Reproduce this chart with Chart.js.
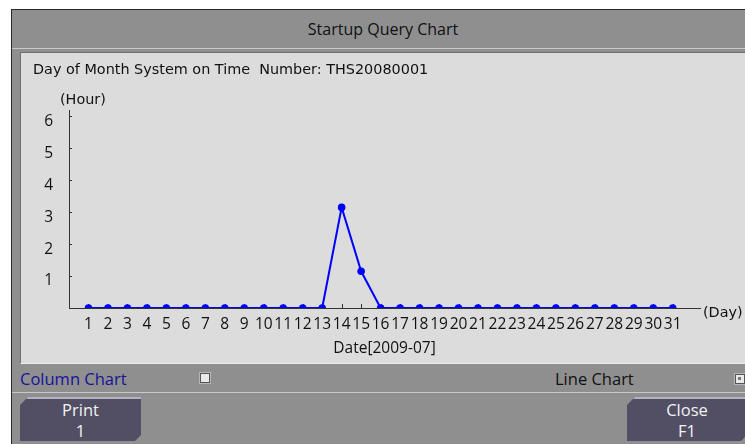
<!DOCTYPE html>
<html>
<head>
<meta charset="utf-8">
<title>Startup Query Chart</title>
<script src="https://cdn.jsdelivr.net/npm/chart.js@4"></script>
<style>
  body { margin: 0; width: 745px; height: 444px; overflow: hidden; background: #fff; position: relative; }
  .abs { position: absolute; }
  #win { left: 11px; top: 9px; width: 740px; height: 440px; background: #8f8f8f; border-left: 1px solid #2a2a2a; border-top: 1px solid #2a2a2a; }
  #caption { font: 16px "Open Sans", sans-serif; left: 12px; top: 10px; width: 742px; height: 38px; line-height: 38px; text-align: center; color: #111; }
  .sep { left: 12px; width: 733px; height: 1px; background: #c9c9c9; }
  #panel { left: 20px; top: 52px; width: 725px; height: 310px; background: #dcdcdc; border-left: 1px solid #6f6f6f; border-top: 1px solid #6f6f6f; border-bottom: 1px solid #ececec; }
  #chart { position: absolute; left: 0; top: 0; }
  .lbl { font: 16.5px "Open Sans", sans-serif; top: 368px; height: 22px; line-height: 22px; }
  .box { width: 8px; height: 8px; background: #e9e9e9; border: 1px solid #555; box-shadow: 0 0 0 1px #b5b5b5; }
  .dot { width: 3px; height: 3px; margin: 2px; background: #777; }
  .btn { font: 16.5px "Open Sans", sans-serif; top: 397px; height: 44px; background: #524f65; color: #f2f2f2; text-align: center; line-height: 21px;
         border-top: 2px solid #b4b2c0; box-sizing: border-box;
         clip-path: polygon(8px 0, 100% 0, 100% calc(100% - 6px), calc(100% - 6px) 100%, 0 100%, 0 8px); }
</style>
</head>
<body>
<div id="win" class="abs"></div>
<div id="caption" class="abs">Startup Query Chart</div>
<div class="abs sep" style="top:48px"></div>
<div id="panel" class="abs"><canvas id="chart" width="724" height="309"></canvas></div>
<div class="abs lbl" style="left:20px;color:#14149a">Column Chart</div>
<div class="abs box" style="left:200px;top:373px"></div>
<div class="abs lbl" style="left:555px;color:#111">Line Chart</div>
<div class="abs box" style="left:735px;top:374px"><div class="dot"></div></div>
<div class="abs sep" style="top:392px"></div>
<div class="abs btn" style="left:20px;width:121px">Print<br>1</div>
<div class="abs btn" style="left:627px;width:120px">Close<br>F1</div>

<script>
const days = [1, 2, 3, 4, 5, 6, 7, 8, 9, 10, 11, 12, 13, 14, 15, 16,
  17, 18, 19, 20, 21, 22, 23, 24, 25, 26, 27, 28, 29, 30, 31];
const hours = [0, 0, 0, 0, 0, 0, 0, 0, 0, 0, 0, 0, 0, 3.15, 1.15, 0,
  0, 0, 0, 0, 0, 0, 0, 0, 0, 0, 0, 0, 0, 0, 0];
const hourTicks = [1, 2, 3, 4, 5, 6];
const heading = 'Day of Month System on Time  Number: THS20080001';

const axisFont = { family: '"Open Sans"', size: 15.5 };

// little inward tick marks plus the header and unit labels
const decorations = {
  id: 'decorations',
  beforeDatasetsDraw(chart) {
    const { ctx, chartArea, scales } = chart;
    ctx.save();
    ctx.strokeStyle = '#333';
    ctx.lineWidth = 1;
    ctx.beginPath();
    hourTicks.forEach(v => {
      const py = Math.round(scales.y.getPixelForValue(v)) + 0.5;
      ctx.moveTo(chartArea.left, py);
      ctx.lineTo(chartArea.left + 3, py);
    });
    days.forEach(d => {
      const px = Math.round(scales.x.getPixelForValue(d)) + 0.5;
      ctx.moveTo(px, chartArea.bottom);
      ctx.lineTo(px, chartArea.bottom - 4);
    });
    ctx.stroke();
    ctx.restore();
  },
  afterDraw(chart) {
    const { ctx, chartArea } = chart;
    ctx.save();
    ctx.fillStyle = '#111';
    ctx.textBaseline = 'middle';
    ctx.textAlign = 'left';
    ctx.font = '14.4px "DejaVu Sans"';
    ctx.fillText(heading, 12, 17);
    ctx.fillText('(Hour)', chartArea.left - 9, chartArea.top - 10);
    ctx.fillText('(Day)', chartArea.right + 3, chartArea.bottom + 5);
    ctx.restore();
  }
};

new Chart(document.getElementById('chart'), {
  type: 'line',
  data: {
    datasets: [{
      data: days.map((d, i) => ({ x: d, y: hours[i] })),
      borderColor: '#0000ff',
      backgroundColor: '#0000ff',
      borderWidth: 2,
      pointRadius: 3.8,
      pointBorderWidth: 0,
      tension: 0
    }]
  },
  options: {
    responsive: false,
    animation: false,
    devicePixelRatio: 1,
    layout: { padding: { left: 0, right: 45, top: 57, bottom: 0 } },
    plugins: { legend: { display: false }, tooltip: { enabled: false } },
    scales: {
      x: {
        type: 'linear',
        min: 0,
        max: 32.4,
        grid: { display: false, drawTicks: false },
        border: { color: '#333', width: 1 },
        ticks: {
          stepSize: 1,
          autoSkip: false,
          maxRotation: 0,
          padding: 7,
          includeBounds: false,
          color: '#111',
          font: axisFont,
          callback: v => days.includes(v) ? String(v) : ''
        },
        title: { display: true, text: 'Date[2009-07]', color: '#111', font: axisFont, padding: { top: 7 } },
        afterFit: s => { s.height = 54; }
      },
      y: {
        min: 0,
        max: 6.2,
        grid: { display: false, drawTicks: false },
        border: { color: '#333', width: 1 },
        ticks: {
          stepSize: 1,
          includeBounds: false,
          padding: 16,
          labelOffset: 5,
          color: '#111',
          font: axisFont,
          callback: v => hourTicks.includes(v) ? String(v) : ''
        },
        afterFit: s => { s.width = 48; }
      }
    }
  },
  plugins: [decorations]
});
</script>
</body>
</html>
